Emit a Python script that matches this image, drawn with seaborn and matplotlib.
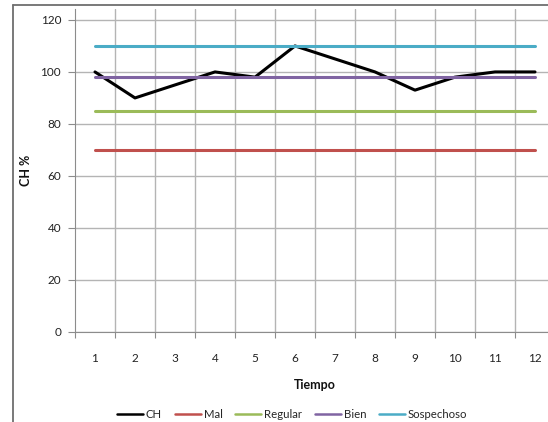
import numpy as np
import pandas as pd
import matplotlib
matplotlib.use("Agg")
import matplotlib.pyplot as plt
import seaborn as sns
from matplotlib.lines import Line2D

# ---- data ----
tiempo = list(range(1, 13))
ch = [100, 90, 95, 100, 98, 110, 105, 100, 93, 98, 100, 100]
mal = [70] * 12
regular = [85] * 12
bien = [98] * 12
sospechoso = [110] * 12
series_names = ["CH", "Mal", "Regular", "Bien", "Sospechoso"]
series_values = [ch, mal, regular, bien, sospechoso]
colors = ["#000000", "#C0504D", "#9BBB59", "#8064A2", "#4BACC6"]
yticks = [0, 20, 40, 60, 80, 100, 120]

sns.set_theme(style="white")
plt.rcParams["font.family"] = ["Lato", "DejaVu Sans"]

W, H = 548, 422
fig = plt.figure(figsize=(W / 100, H / 100), dpi=100)
L, R, T, B = 75, 555, 9, 332
ax = fig.add_axes([L / W, 1 - B / H, (R - L) / W, (B - T) / H])

rows = []
for name, vals in zip(series_names, series_values):
    for t, v in zip(tiempo, vals):
        rows.append({"Tiempo": t, "valor": v, "serie": name})
df = pd.DataFrame(rows)

sns.lineplot(data=df, x="Tiempo", y="valor", hue="serie", hue_order=series_names,
             palette=colors, linewidth=2.2, ax=ax, legend=False, zorder=3)

ax.set_xlim(0.5, 12.5)
ax.set_ylim(0, 124.2)
ax.set_yticks(yticks)
ax.set_yticklabels([str(v) for v in yticks], fontsize=8.5, color="#222222")
ax.set_xticks(tiempo)
ax.set_xticklabels([str(t) for t in tiempo], fontsize=8.5, color="#222222")
ax.set_xticks(np.arange(0.5, 12.6, 1.0), minor=True)

ax.grid(False)
for y in yticks:
    ax.axhline(y, color="#B4B4B4", lw=1.0, zorder=1)
for x in np.arange(1.5, 12.5, 1.0):
    ax.axvline(x, color="#B4B4B4", lw=1.0, zorder=1)

ax.tick_params(axis="x", which="major", length=0, pad=15)
ax.tick_params(axis="x", which="minor", length=4, width=0.8, color="#8C8C8C", direction="out", bottom=True)
ax.tick_params(axis="y", which="major", length=5, width=0.8, color="#8C8C8C", direction="out", left=True, pad=5)

for s in ["top", "right"]:
    ax.spines[s].set_visible(False)
ax.spines["left"].set_color("#8C8C8C")
ax.spines["bottom"].set_color("#8C8C8C")
ax.spines["left"].set_linewidth(0.8)
ax.spines["bottom"].set_linewidth(0.8)

ax.set_xlabel("Tiempo", fontsize=9, fontweight="bold", color="#111111", va="center")
ax.xaxis.set_label_coords(0.5, -(385 - B) / (B - T))
ax.set_ylabel("CH %", fontsize=9, fontweight="bold", color="#111111", va="center")
ax.yaxis.set_label_coords((26 - L) / (R - L), 0.5)

handles = [Line2D([0], [0], color=c, lw=1.8) for c in colors]
fig.legend(handles, series_names, loc="center", bbox_to_anchor=(292 / W, 1 - 414 / H),
           ncol=5, frameon=False, fontsize=8.2, handlelength=2.3, handletextpad=0.25,
           columnspacing=1.1)

# chart-area border (left and top visible)
fig.add_artist(Line2D([13 / W, 13 / W], [0, 1 - 5 / H], transform=fig.transFigure,
                      color="#6E6E6E", lw=1.3))
fig.add_artist(Line2D([13 / W, 1], [1 - 5 / H, 1 - 5 / H], transform=fig.transFigure,
                      color="#6E6E6E", lw=1.3))

fig.savefig("out.png", dpi=100, facecolor="white")
